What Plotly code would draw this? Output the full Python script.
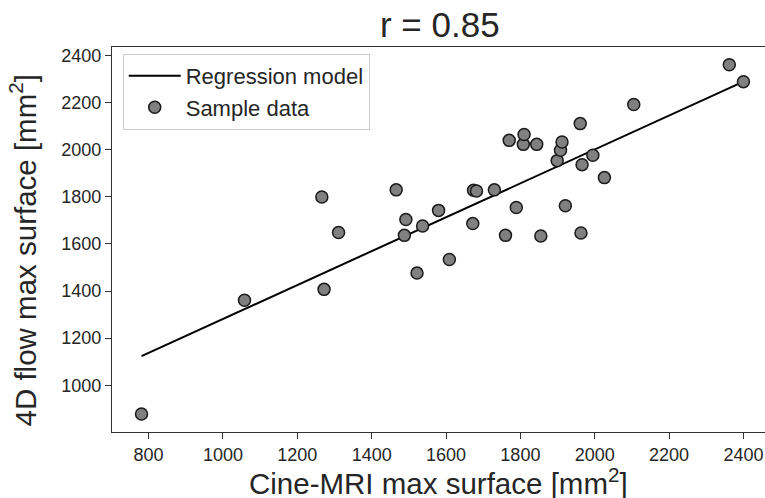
import plotly.graph_objects as go

# Sample data (Cine-MRI vs 4D flow max surface, mm^2)
cine_mri = [781, 1058, 1266, 1272, 1311, 1466, 1488, 1492, 1522, 1537, 1580, 1609,
            1672, 1674, 1682, 1730, 1760, 1770, 1789, 1808, 1810, 1844, 1855, 1899,
            1908, 1912, 1921, 1961, 1963, 1966, 1995, 2026, 2105, 2362, 2400]
flow_4d = [878, 1361, 1799, 1407, 1648, 1829, 1636, 1703, 1476, 1676, 1742, 1534,
           1686, 1827, 1824, 1829, 1636, 2039, 1754, 2022, 2064, 2022, 1633, 1953,
           1997, 2032, 1762, 2110, 1646, 1936, 1976, 1881, 2191, 2360, 2288]

# Regression model end points
reg_x = [781, 2400]
reg_y = [1124, 2288]

x_ticks = [800, 1000, 1200, 1400, 1600, 1800, 2000, 2200, 2400]
y_ticks = [1000, 1200, 1400, 1600, 1800, 2000, 2200, 2400]

FONT = "Liberation Sans, Arial, Helvetica, sans-serif"
TXT = "#262626"

fig = go.Figure()
fig.add_trace(go.Scatter(
    x=reg_x, y=reg_y, mode="lines", name="Regression model", legendgroup="a",
    line=dict(color="black", width=2)))
fig.add_trace(go.Scatter(
    x=cine_mri, y=flow_4d, mode="markers", name="Sample data", legendgroup="b",
    marker=dict(size=12, color="#808080", line=dict(color="#1a1a1a", width=1.5))))

axis_common = dict(
    showgrid=False, zeroline=False, showline=True, linecolor="#333333", linewidth=1.2,
    ticks="outside", ticklen=6, tickwidth=1.2, tickcolor="#333333", automargin=False,
    tickfont=dict(family=FONT, size=18, color=TXT))

fig.update_layout(
    width=765, height=498,
    margin=dict(l=112, r=0, t=47, b=66),
    paper_bgcolor="white", plot_bgcolor="white",
    font=dict(family=FONT, color=TXT),
    title=dict(text="r = 0.85", x=0.502, xanchor="center", xref="paper",
               y=1 - 25 / 498, yref="container", yanchor="middle",
               font=dict(family=FONT, size=35, color=TXT)),
    xaxis=dict(range=[701.6, 2458], tickvals=x_ticks, mirror=True, **axis_common),
    yaxis=dict(range=[802, 2435], tickvals=y_ticks, mirror=False, **axis_common),
    legend=dict(x=0.0164, y=0.982, xanchor="left", yanchor="top",
                bgcolor="rgba(255,255,255,0.8)", bordercolor="#cccccc", borderwidth=1,
                font=dict(family=FONT, size=22, color=TXT),
                itemwidth=52, tracegroupgap=0),
    showlegend=True,
    annotations=[
        dict(text="Cine-MRI max surface [mm<sup>2</sup>]", xref="paper", yref="paper",
             x=0.5, y=0, yshift=-49, xanchor="center", yanchor="middle",
             showarrow=False, font=dict(family=FONT, size=29.5, color=TXT)),
        dict(text="4D flow max surface [mm<sup>2</sup>]", xref="paper", yref="paper",
             x=0, y=0.5, xshift=-89, yshift=-11, xanchor="center", yanchor="middle",
             textangle=-90, showarrow=False, font=dict(family=FONT, size=29.5, color=TXT)),
    ],
)

fig.write_html(
    "out.html",
    config={"displayModeBar": False},
    post_script="document.body.style.margin='0px';document.body.style.overflow='hidden';")
